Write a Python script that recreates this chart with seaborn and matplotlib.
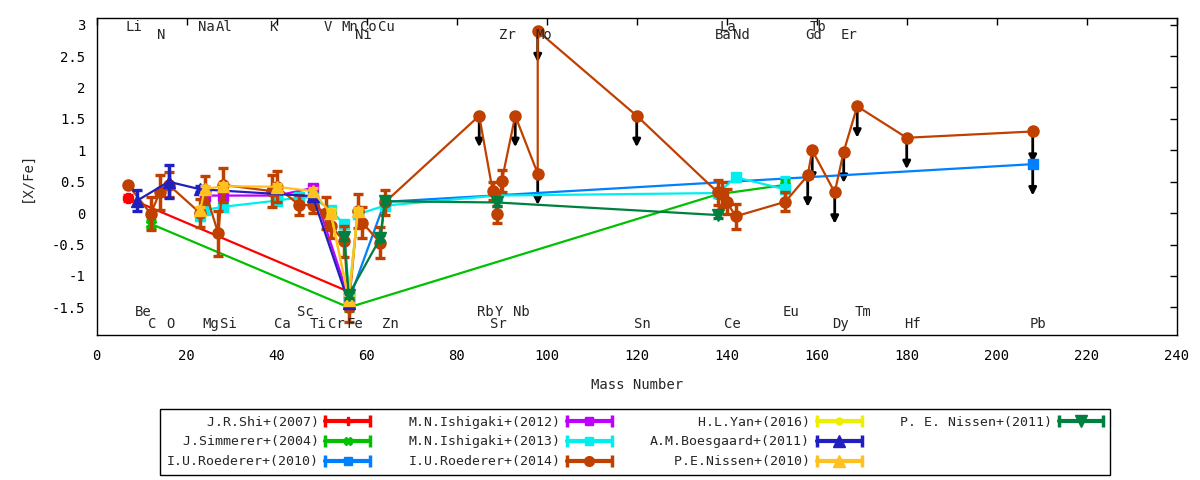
import numpy as np
import pandas as pd
import matplotlib.pyplot as plt
import seaborn as sns
from matplotlib.lines import Line2D
from matplotlib.legend_handler import HandlerLine2D, HandlerTuple

sns.set_style('white')
plt.rcParams['font.family'] = ['DejaVu Sans Mono']
plt.rcParams['axes.unicode_minus'] = False

# element labels (mass number, text row)
elem_names = ['Li', 'Na', 'Al', 'K', 'V', 'Mn', 'Co', 'Cu', 'La', 'Tb',
              'N', 'Ni', 'Zr', 'Mo', 'Ba', 'Nd', 'Gd', 'Er',
              'Be', 'Sc', 'Rb', 'Y', 'Nb', 'Eu', 'Tm',
              'C', 'O', 'Mg', 'Si', 'Ca', 'Ti', 'Cr', 'Fe', 'Zn', 'Sr', 'Sn', 'Ce', 'Dy', 'Hf', 'Pb']
elem_mass = [7, 23, 27, 39, 51, 55, 59, 63, 139, 159,
             14, 58, 90, 98, 138, 142, 158, 166,
             9, 45, 85, 89, 93, 153, 169,
             12, 16, 24, 28, 40, 48, 52, 56, 64, 88, 120, 140, 164, 180, 208]
elem_row = [0]*10 + [1]*8 + [2]*7 + [3]*15
row_y = [2.97, 2.83, -1.57, -1.77]

# J.R.Shi+(2007)
shi_x = [7, 56]
shi_y = [0.24, -1.25]
shi_e = [0.05, 0.05]
# J.Simmerer+(2004)
sim_x = [12, 56, 138, 153]
sim_y = [-0.17, -1.5, 0.3, 0.45]
sim_e = [0.06, 0.05, 0.05, 0.07]
# I.U.Roederer+(2010)
r10_x = [56, 64, 208]
r10_y = [-1.4, 0.18, 0.78]
r10_e = [0.05, 0.05, 0.0]
r10_ul = [0, 0, 1]
# M.N.Ishigaki+(2012)
i12_x = [24, 28, 40, 48, 56]
i12_y = [0.28, 0.28, 0.28, 0.4, -1.35]
i12_e = [0.08, 0.1, 0.08, 0.05, 0.05]
# M.N.Ishigaki+(2013)
i13_x = [23, 24, 28, 40, 45, 48, 52, 55, 56, 58, 64, 89, 138, 142, 153]
i13_y = [-0.05, 0.05, 0.1, 0.2, 0.25, 0.25, 0.05, -0.18, -1.3, -0.02, 0.12, 0.28, 0.32, 0.57, 0.38]
i13_e = [0.06, 0.05, 0.05, 0.05, 0.05, 0.05, 0.05, 0.06, 0.05, 0.05, 0.06, 0.06, 0.06, 0.06, 0.2]
# I.U.Roederer+(2014)
r14_x = [7, 12, 14, 16, 23, 24, 27, 28, 39, 40, 45, 48, 51, 52, 55, 56, 58, 59, 63, 64,
         85, 88, 89, 90, 93, 98, 98, 120, 138, 139, 140, 142, 153, 158, 159, 164, 166, 169, 180, 208]
r14_y = [0.45, -0.01, 0.33, 0.45, 0.0, 0.37, -0.32, 0.45, 0.35, 0.42, 0.13, 0.13, 0.0, -0.2, -0.45, -1.5,
         0.04, -0.15, -0.47, 0.17, 1.55, 0.35, -0.02, 0.51, 1.55, 0.63, 2.9, 1.55, 0.33, 0.3, 0.18, -0.05,
         0.18, 0.6, 1.0, 0.33, 0.98, 1.7, 1.2, 1.3]
r14_e = [0.0, 0.26, 0.28, 0.2, 0.22, 0.22, 0.36, 0.27, 0.25, 0.25, 0.16, 0.13, 0.25, 0.2, 0.24, 0.24,
         0.27, 0.25, 0.25, 0.2, 0.0, 0.14, 0.13, 0.17, 0.0, 0.0, 0.0, 0.0, 0.2, 0.2, 0.2, 0.2,
         0.15, 0.0, 0.0, 0.0, 0.0, 0.0, 0.0, 0.0]
r14_ul = [0]*20 + [1, 0, 0, 0, 1, 1, 1, 1, 0, 0, 0, 0, 0, 1, 1, 1, 1, 1, 1, 1]
# H.L.Yan+(2016)
yan_x = [52, 56, 58]
yan_y = [0.02, -1.36, 0.02]
yan_e = [0.05, 0.05, 0.05]
# A.M.Boesgaard+(2011)
boe_x = [9, 16, 23, 48, 56]
boe_y = [0.2, 0.5, 0.38, 0.27, -1.43]
boe_e = [0.17, 0.26, 0.05, 0.05, 0.05]
# P.E.Nissen+(2010)
n10_x = [23, 24, 28, 40, 48, 52, 56, 58]
n10_y = [0.05, 0.38, 0.43, 0.42, 0.35, 0.0, -1.38, 0.03]
n10_e = [0.05, 0.05, 0.05, 0.05, 0.05, 0.05, 0.05, 0.05]
# P. E. Nissen+(2011)
n11_x = [55, 56, 63, 64, 89, 138]
n11_y = [-0.38, -1.3, -0.4, 0.19, 0.17, -0.03]
n11_e = [0.05, 0.05, 0.05, 0.05, 0.05, 0.05]

series = [
    ('J.R.Shi+(2007)', shi_x, shi_y, shi_e, None, '#ff0000', 'P', 7),
    ('J.Simmerer+(2004)', sim_x, sim_y, sim_e, None, '#00c000', 'X', 7),
    ('I.U.Roederer+(2010)', r10_x, r10_y, r10_e, r10_ul, '#0080ff', 's', 7),
    ('M.N.Ishigaki+(2012)', i12_x, i12_y, i12_e, None, '#c000ff', 's', 7),
    ('M.N.Ishigaki+(2013)', i13_x, i13_y, i13_e, None, '#00eeee', 's', 7),
    ('I.U.Roederer+(2014)', r14_x, r14_y, r14_e, r14_ul, '#c04000', 'o', 8),
    ('H.L.Yan+(2016)', yan_x, yan_y, yan_e, None, '#eeee00', 'o', 6),
    ('A.M.Boesgaard+(2011)', boe_x, boe_y, boe_e, None, '#2020c0', '^', 9),
    ('P.E.Nissen+(2010)', n10_x, n10_y, n10_e, None, '#ffc020', '^', 9),
    ('P. E. Nissen+(2011)', n11_x, n11_y, n11_e, None, '#008040', 'v', 9),
]

fig = plt.figure(figsize=(12, 4.8), dpi=100)
ax = fig.add_axes([0.0806, 0.302, 0.9, 0.661])

handles = []
hmap = {}
for i, (name, xs, ys, es, ul, c, m, ms) in enumerate(series):
    z = 3 + i * 0.1
    sns.lineplot(x=xs, y=ys, sort=False, estimator=None, color=c, marker=m, markersize=ms,
                 markeredgecolor=c, markeredgewidth=1, linewidth=1.6, ax=ax, zorder=z, legend=False)
    ax.errorbar(xs, ys, yerr=es, fmt='none', ecolor=c, elinewidth=2.5, capsize=3.6,
                capthick=2.4, zorder=z)
    if ul is not None:
        for xv, yv, f in zip(xs, ys, ul):
            if f:
                ax.annotate('', xy=(xv, yv - 0.5), xytext=(xv, yv),
                            arrowprops=dict(arrowstyle='-|>', color='black', lw=2,
                                            mutation_scale=11, shrinkA=0, shrinkB=0),
                            zorder=2)
    main = Line2D([], [], color=c, lw=3, marker=m, markersize=ms - 1, markeredgecolor=c)
    caps = Line2D([], [], color=c, ls='none', marker='|', markersize=9, markeredgewidth=2.5)
    hmap[caps] = HandlerLine2D(numpoints=2, marker_pad=0)
    handles.append((main, caps))

for nm, ms_, r in zip(elem_names, elem_mass, elem_row):
    ax.text(ms_ - 0.6, row_y[r], nm, ha='left', va='center', fontsize=10, zorder=10)

ax.set_xlim(0, 240)
ax.set_ylim(-1.94, 3.11)
ax.set_xticks(np.arange(0, 241, 20))
ax.set_yticks(np.arange(-1.5, 3.01, 0.5))
ax.set_yticklabels(['%g' % v for v in np.arange(-1.5, 3.01, 0.5)])
ax.tick_params(direction='in', top=True, right=True, length=5, width=1,
               labelsize=10, colors='black')
ax.tick_params(axis='x', pad=10)
ax.tick_params(axis='y', pad=8)
for s in ax.spines.values():
    s.set_color('black')
    s.set_linewidth(1)
ax.set_xlabel('Mass Number', fontsize=10, labelpad=11)
ax.set_ylabel('[X/Fe]', fontsize=10, labelpad=13)

labels = [s[0] for s in series]
cols = [[0, 1, 2], [3, 4, 5], [6, 7, 8], [9]]
padded = list(labels)
for col in cols:
    w = max(len(labels[k]) for k in col)
    for k in col:
        padded[k] = labels[k].rjust(w)

# two empty slots so the last column holds one entry, like the original key
for _ in range(2):
    handles.append(Line2D([], [], alpha=0))
    padded.append('')

hmap[tuple] = HandlerTuple(ndivide=1, pad=0)
leg = ax.legend(handles, padded, handler_map=hmap, ncol=4, markerfirst=False,
                loc='upper left', bbox_to_anchor=(160/1200, 1 - 476/480, 950/1200, 67/480),
                bbox_transform=fig.transFigure, mode='expand', fontsize=9.5,
                frameon=True, fancybox=False, edgecolor='black', framealpha=1,
                handlelength=3.4, handletextpad=0.5, labelspacing=0.52, borderpad=0.5,
                borderaxespad=0)
leg.get_frame().set_linewidth(1)

fig.savefig('out.png', dpi=100)
